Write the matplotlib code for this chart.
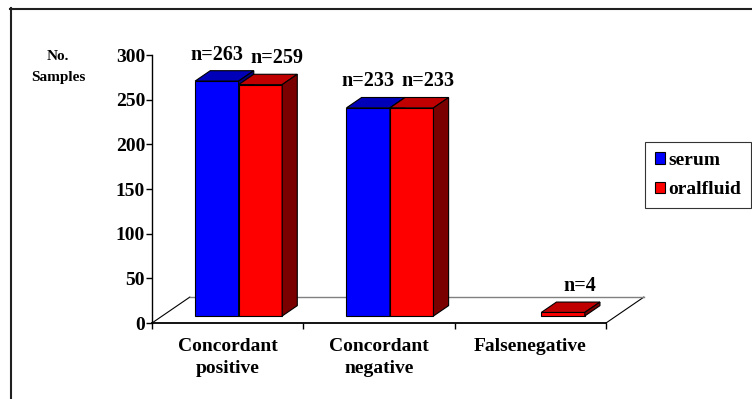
import matplotlib
matplotlib.use("Agg")
import matplotlib.pyplot as plt
from matplotlib.patches import Polygon, Patch
from matplotlib.lines import Line2D

plt.rcParams["font.family"] = ["Liberation Serif", "DejaVu Serif"]
plt.rcParams["font.weight"] = "bold"

# ----------------------------
# Data
# ----------------------------
categories = ["Concordant\npositive", "Concordant\nnegative", "Falsenegative"]
serum = [263, 233, 0]
oral_fluid = [259, 233, 4]
series_names = ["serum", "oralfluid"]
yticks = [0, 50, 100, 150, 200, 250, 300]

# front / top / side colours for each series
blue = ("#0000ff", "#0000b8", "#000080")
red = ("#ff0000", "#c00000", "#7a0000")

# ----------------------------
# 3D look (floor depth in data units)
# ----------------------------
depth_x = 0.25
depth_y = 29.0
bar_front = 0.27     # fraction of floor depth where bar fronts sit
bar_back = 0.67
bar_w = 0.2875

W, H = 752, 399
fig = plt.figure(figsize=(W / 100, H / 100), dpi=100)
ax = fig.add_axes([152 / W, (H - 323) / H, 454 / W, 268 / H])
ax.set_xlim(0, 3)
ax.set_ylim(0, 300)
ax.patch.set_visible(False)

for s in ("top", "right"):
    ax.spines[s].set_visible(False)
ax.spines["left"].set_linewidth(1.0)
ax.spines["bottom"].set_linewidth(1.3)

# floor
fx = [0, 3, 3 + depth_x, depth_x]
fy = [0, 0, depth_y, depth_y]
ax.add_patch(Polygon(list(zip(fx, fy)), closed=True, facecolor="white",
                     edgecolor="none", clip_on=False, zorder=1))
ax.plot([0, depth_x], [0, depth_y], color="black", lw=0.8, clip_on=False, zorder=2)
ax.plot([3, 3 + depth_x], [0, depth_y], color="black", lw=0.8, clip_on=False, zorder=2)
ax.plot([depth_x, 3 + depth_x], [depth_y, depth_y], color="#808080", lw=1.0,
        clip_on=False, zorder=2)

ox, oy = bar_front * depth_x, bar_front * depth_y
bx, by = bar_back * depth_x, bar_back * depth_y


def draw_bar(x0, v, colors, label_dx):
    x1 = x0 + bar_w
    front = [(x0 + ox, oy), (x1 + ox, oy), (x1 + ox, v + oy), (x0 + ox, v + oy)]
    top = [(x0 + ox, v + oy), (x1 + ox, v + oy), (x1 + bx, v + by), (x0 + bx, v + by)]
    side = [(x1 + ox, oy), (x1 + bx, by), (x1 + bx, v + by), (x1 + ox, v + oy)]
    for pts, c in zip((front, top, side), colors):
        ax.add_patch(Polygon(pts, closed=True, facecolor=c, edgecolor="black",
                             lw=0.8, clip_on=False, zorder=3))
    ax.annotate(f"n={v}", xy=((x0 + x1) / 2 + ox, v + oy),
                xytext=(label_dx, 19), textcoords="offset points",
                ha="center", va="center", fontsize=14.5, fontweight="bold",
                annotation_clip=False, zorder=4)


for i in range(len(categories)):
    c = i + 0.505
    if serum[i] > 0:
        draw_bar(c - bar_w, serum[i], blue, 0)
    if oral_fluid[i] > 0:
        draw_bar(c, oral_fluid[i], red, 12)

# axes ticks
ax.set_yticks(yticks)
ax.set_yticklabels([str(t) for t in yticks], fontsize=14, fontweight="bold")
ax.tick_params(axis="y", direction="out", length=4, width=1.0, pad=1)
ax.set_xticks([0, 1, 2, 3])
ax.set_xticklabels([])
ax.tick_params(axis="x", which="major", direction="out", length=4, width=1.0)
ax.set_xticks([0.5, 1.5, 2.5], minor=True)
ax.set_xticklabels(categories, minor=True, fontsize=14, fontweight="bold",
                   linespacing=1.35, va="top")
ax.tick_params(axis="x", which="minor", length=0, pad=11)

# y axis title
fig.text(58 / W, 1 - 57 / H, "No.", ha="center", va="center", fontsize=11,
         fontweight="bold")
fig.text(58 / W, 1 - 77 / H, "Samples", ha="center", va="center", fontsize=11,
         fontweight="bold")

# legend
handles = [Patch(facecolor=blue[0], edgecolor="black", lw=0.8),
           Patch(facecolor=red[0], edgecolor="black", lw=0.8)]
leg = fig.legend(handles, series_names, loc="upper left",
                 bbox_to_anchor=(645 / W, 1 - 142 / H),
                 prop={"size": 14, "weight": "bold"}, frameon=True,
                 fancybox=False, shadow=False, handlelength=0.55,
                 handleheight=0.55, handletextpad=0.15, labelspacing=0.65,
                 borderpad=0.5, borderaxespad=0)
leg.get_frame().set_edgecolor("black")
leg.get_frame().set_linewidth(0.8)

# outer border (left and top edges)
fig.add_artist(Line2D([10.5 / W, 10.5 / W], [0, 1 - 8 / H], color="#202020",
                      lw=1.5, transform=fig.transFigure))
fig.add_artist(Line2D([10 / W, 1], [1 - 8.5 / H, 1 - 8.5 / H], color="#202020",
                      lw=1.5, transform=fig.transFigure))

fig.savefig("out.png", dpi=100)
